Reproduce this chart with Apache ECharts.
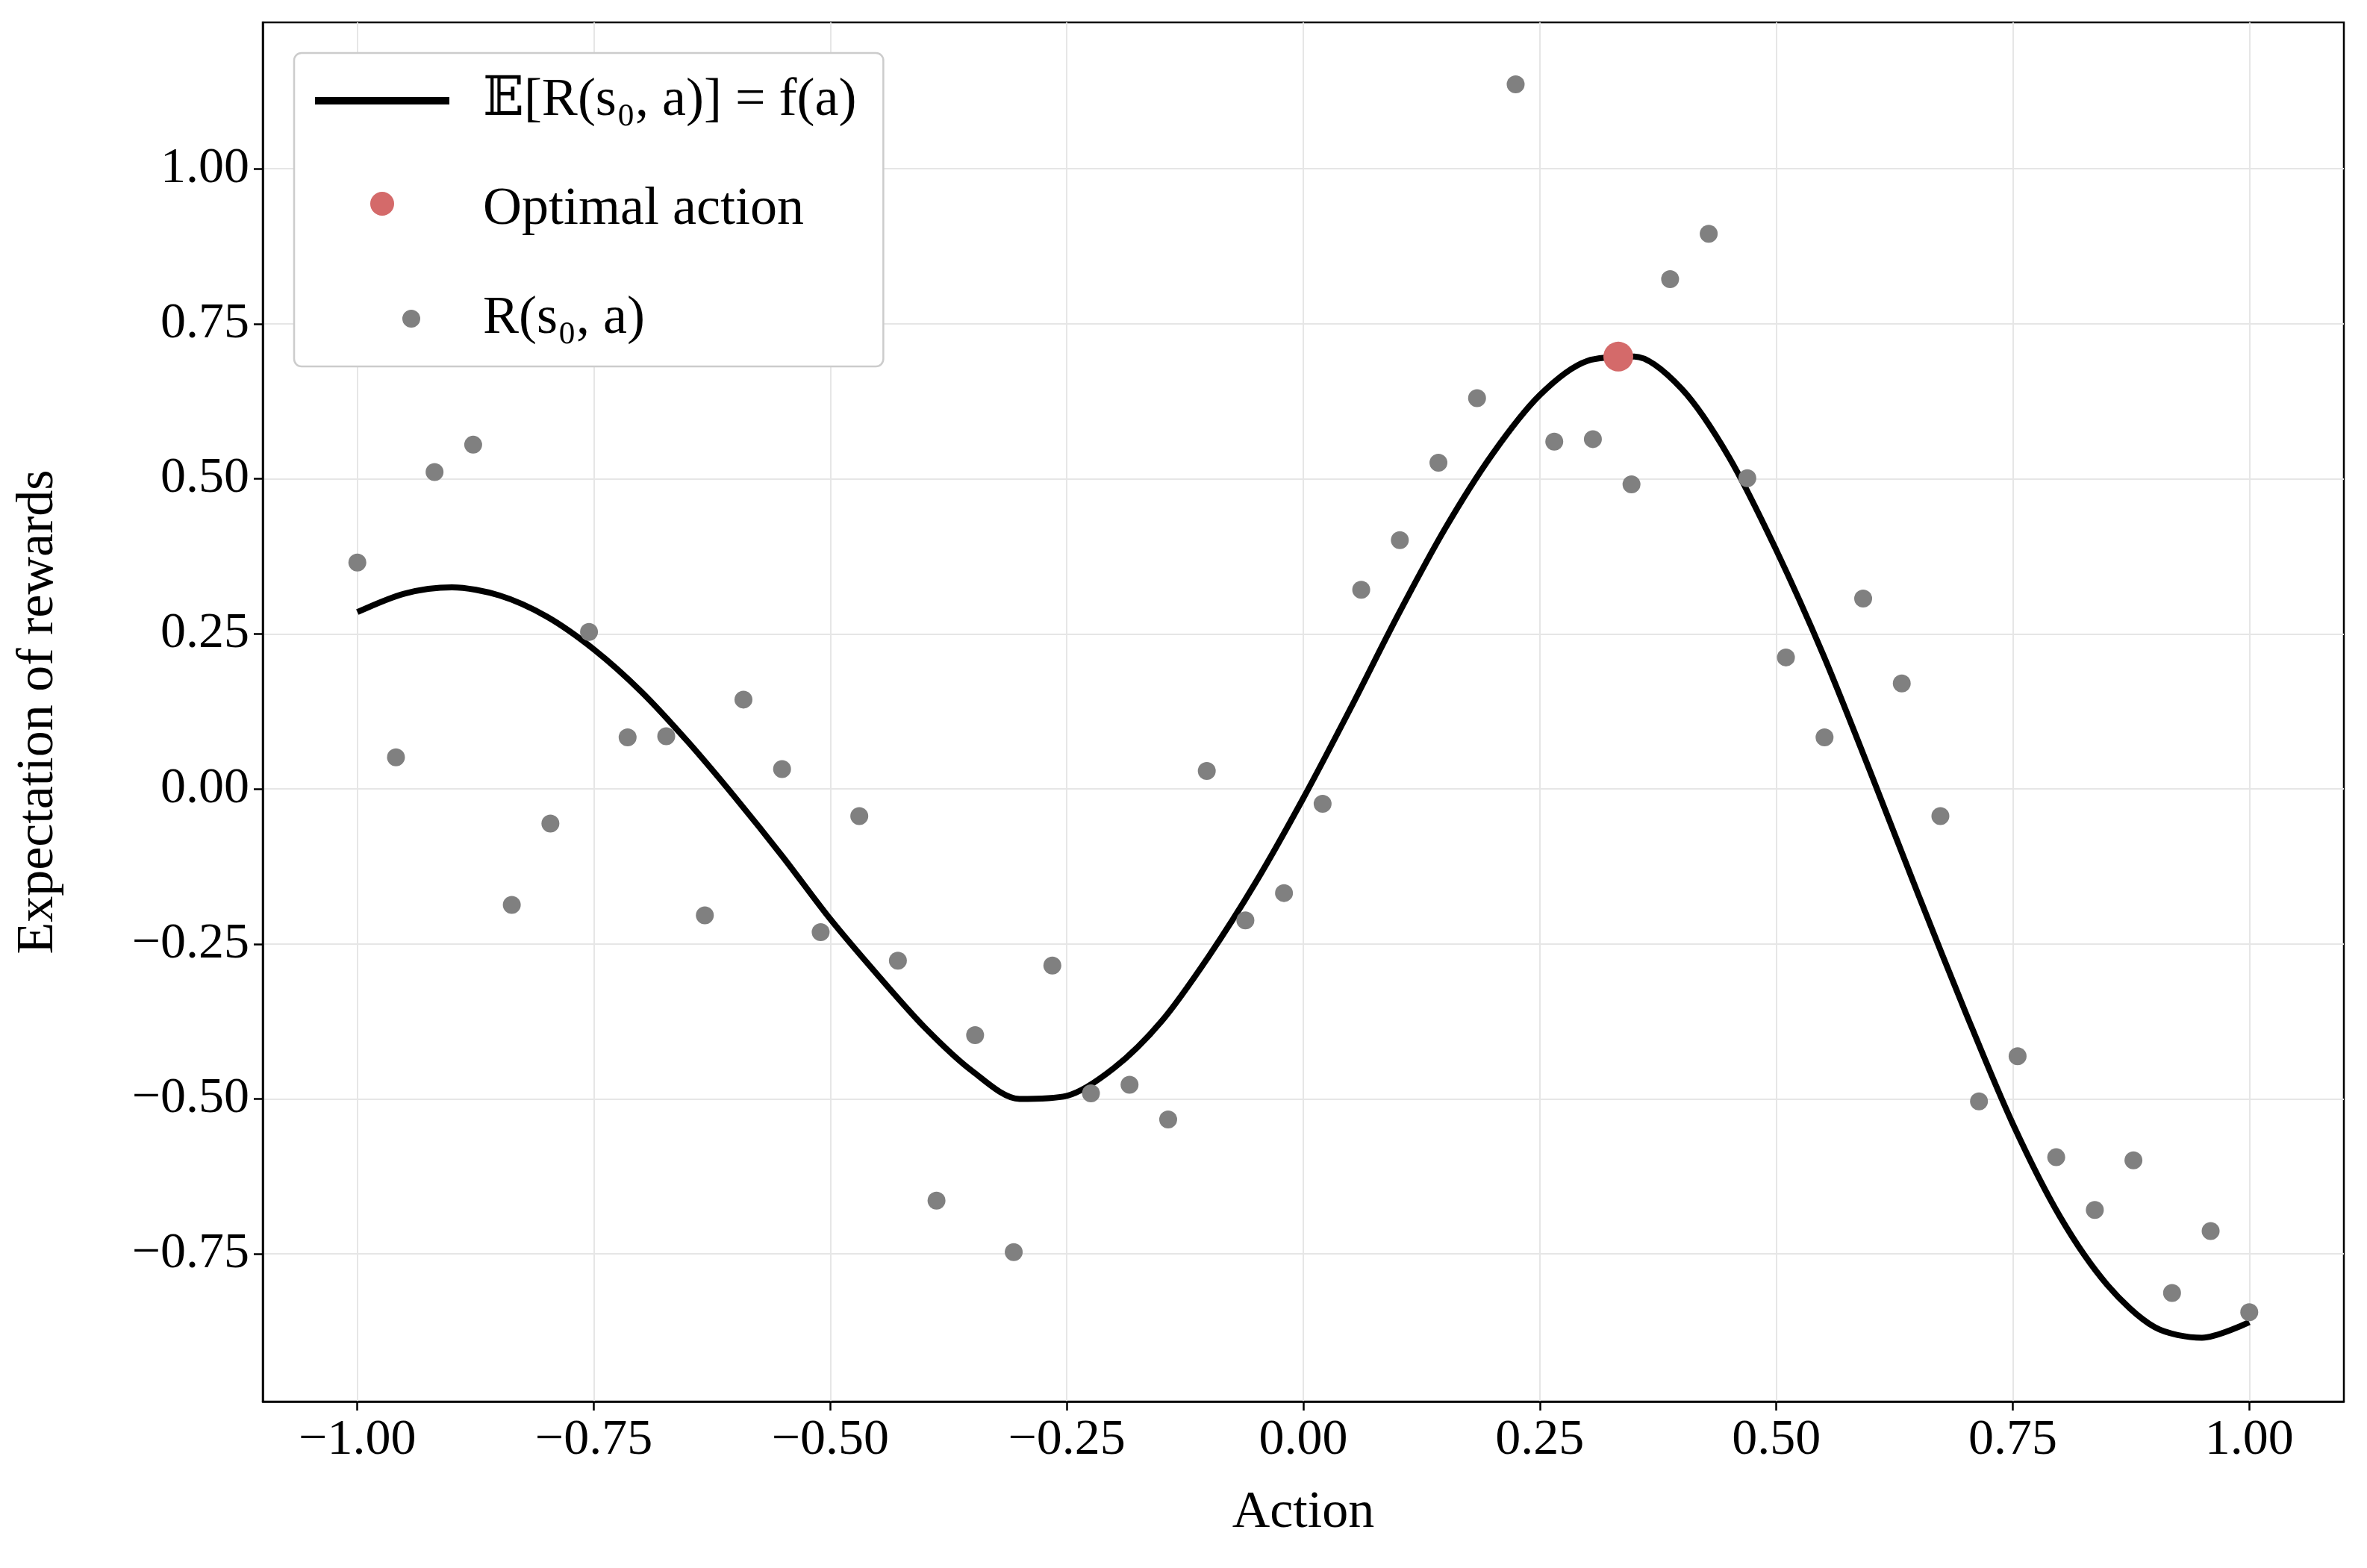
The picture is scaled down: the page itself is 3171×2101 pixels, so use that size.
<!DOCTYPE html>
<html><head><meta charset="utf-8">
<script src="https://cdn.jsdelivr.net/npm/echarts@6/dist/echarts.min.js"></script>
<style>html,body{margin:0;padding:0;background:#fff}#c{width:3171px;height:2101px}</style>
</head><body><div id="c"></div>
<script>
const sampleX = [];
for (let i = 0; i < 50; i++) sampleX.push(-1 + 2 * i / 49);
const sampleY = [0.365,0.051,0.511,0.555,-0.187,-0.056,0.253,0.083,0.085,-0.204,
0.144,0.032,-0.231,-0.044,-0.277,-0.664,-0.397,-0.747,-0.285,-0.491,
-0.477,-0.533,0.029,-0.212,-0.168,-0.024,0.321,0.401,0.526,0.630,
1.136,0.560,0.564,0.491,0.822,0.895,0.501,0.212,0.083,0.307,
0.170,-0.044,-0.504,-0.431,-0.594,-0.679,-0.599,-0.813,-0.713,-0.844];
const curveX = [-1,-0.95,-0.9,-0.85,-0.8,-0.75,-0.7,-0.65,-0.6,-0.55,-0.5,-0.45,-0.4,-0.35,-0.3,-0.25,-0.2,-0.15,-0.1,-0.05,0,0.05,0.1,0.15,0.2,0.25,0.3,0.35,0.4,0.45,0.5,0.55,0.6,0.65,0.7,0.75,0.8,0.85,0.9,0.95,1];
const curveY = [0.285,0.315,0.325,0.312,0.278,0.225,0.157,0.075,-0.015,-0.11,-0.21,-0.30,-0.385,-0.455,-0.500,-0.495,-0.45,-0.375,-0.27,-0.15,-0.015,0.13,0.28,0.42,0.54,0.635,0.69,0.697,0.645,0.535,0.385,0.215,0.025,-0.17,-0.36,-0.54,-0.69,-0.80,-0.868,-0.885,-0.86];
const optimal = [0.333, 0.697];
const xTicks = [-1,-0.75,-0.5,-0.25,0,0.25,0.5,0.75,1];
const yTicks = [-0.75,-0.5,-0.25,0,0.25,0.5,0.75,1];
const F = 'Liberation Serif, DejaVu Serif, serif';
const fmt = v => (v < 0 ? '\u2212' : '') + Math.abs(v).toFixed(2);
const chart = echarts.init(document.getElementById('c'));
const axLine = {show:true,onZero:false,lineStyle:{color:'#000',width:2.5}};
chart.setOption({
  animation:false,
  grid:{left:352,right:31,top:30,bottom:223,show:true,borderColor:'#000',borderWidth:2.5},
  xAxis:{type:'value',min:-1.1,max:1.1,name:'Action',nameLocation:'middle',nameGap:115,
    nameTextStyle:{fontFamily:F,fontSize:70,color:'#000'},
    axisLine:axLine,
    axisTick:{show:true,customValues:xTicks,length:12,lineStyle:{color:'#000',width:2.5}},
    axisLabel:{customValues:xTicks,formatter:fmt,fontFamily:F,fontSize:68,color:'#000',margin:18},
    splitLine:{show:true,lineStyle:{color:'#e6e6e6',width:2}}},
  yAxis:{type:'value',min:-0.988,max:1.236,name:'Expectation of rewards',nameLocation:'middle',nameGap:265,
    nameTextStyle:{fontFamily:F,fontSize:70,color:'#000'},
    axisLine:axLine,
    axisTick:{show:true,customValues:yTicks,length:12,lineStyle:{color:'#000',width:2.5}},
    axisLabel:{customValues:yTicks,formatter:fmt,fontFamily:F,fontSize:68,color:'#000',margin:18},
    splitLine:{show:true,lineStyle:{color:'#e6e6e6',width:2}}},
  legend:{orient:'vertical',left:394,top:71,padding:[28,36,28,28],itemGap:74,itemWidth:180,itemHeight:48,
    backgroundColor:'#fff',borderColor:'#cccccc',borderWidth:2.5,borderRadius:10,
    textStyle:{fontFamily:F,fontSize:72,color:'#000',padding:[0,0,0,40]},
    data:[{name:'\ud835\udd3c[R(s\u2080, a)] = f(a)',icon:'path://M0,19 L180,19 L180,29 L0,29 Z',itemStyle:{color:'#000'}},
          {name:'Optimal action',icon:'path://M70,4 A20,20 0 1 1 110,4 A20,20 0 1 1 70,4 Z M70,44 L70,44 Z'},
          {name:'R(s\u2080, a)',icon:'path://M78,10 A12,12 0 1 1 102,10 A12,12 0 1 1 78,10 Z M0,-14 L0,-14 Z M0,34 L0,34 Z'}]},
  series:[
    {name:'\ud835\udd3c[R(s\u2080, a)] = f(a)',type:'line',smooth:0.3,showSymbol:false,
     data:curveX.map((x,i)=>[x,curveY[i]]),lineStyle:{color:'#000',width:8},itemStyle:{color:'#000'},z:3},
    {name:'Optimal action',type:'scatter',data:[optimal],symbolSize:40,itemStyle:{color:'#d46a6a',opacity:1},z:5},
    {name:'R(s\u2080, a)',type:'scatter',data:sampleX.map((x,i)=>[x,sampleY[i]]),symbolSize:24,itemStyle:{color:'#808080',opacity:1},z:4}
  ]
});
</script></body></html>
